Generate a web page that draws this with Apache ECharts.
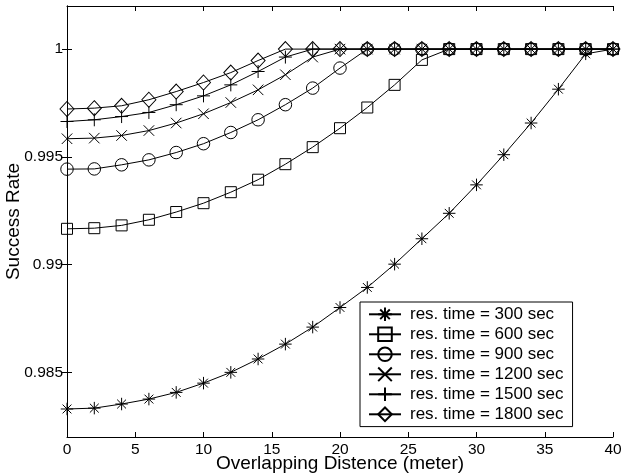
<!DOCTYPE html>
<html>
<head>
<meta charset="utf-8">
<script src="https://cdn.jsdelivr.net/npm/echarts@6/dist/echarts.min.js"></script>
<style>
html,body{margin:0;padding:0;background:#fff;}
#chart{width:623px;height:475px;}
</style>
</head>
<body>
<div id="chart"></div>
<script>
// ---- data ----
var distances = [0,2,4,6,8,10,12,14,16,18,20,22,24,26,28,30,32,34,36,38,40];
var seriesNames = ['res. time = 300 sec','res. time = 600 sec','res. time = 900 sec','res. time = 1200 sec','res. time = 1500 sec','res. time = 1800 sec'];
var rt300  = [0.98330,0.98334,0.98353,0.98376,0.98407,0.98450,0.98500,0.98562,0.98631,0.98710,0.98801,0.98894,0.99002,0.99120,0.99238,0.99370,0.99510,0.99657,0.99814,0.99978,1.0];
var rt600  = [0.99166,0.99169,0.99182,0.99208,0.99244,0.99285,0.99336,0.99394,0.99466,0.99545,0.99633,0.99729,0.99834,0.99950,1,1,1,1,1,1,1];
var rt900  = [0.99443,0.99444,0.99463,0.99486,0.99520,0.99561,0.99613,0.99672,0.99742,0.99819,0.99912,1,1,1,1,1,1,1,1,1,1];
var rt1200 = [0.99584,0.99587,0.99599,0.99622,0.99657,0.99700,0.99752,0.99811,0.99881,0.99963,1,1,1,1,1,1,1,1,1,1,1];
var rt1500 = [0.99664,0.99672,0.99687,0.99706,0.99742,0.99783,0.99834,0.99896,0.99963,1,1,1,1,1,1,1,1,1,1,1,1];
var rt1800 = [0.99722,0.99726,0.99737,0.99765,0.99803,0.99845,0.99891,0.99947,1,1,1,1,1,1,1,1,1,1,1,1,1];
var yTickValues = [0.985,0.99,0.995,1];
var xTickInterval = 5;

var allSeries = [rt300, rt600, rt900, rt1200, rt1500, rt1800];
var symbols = [
  'path://M0,-10L0,10M-10,0L10,0M-7.07,-7.07L7.07,7.07M-7.07,7.07L7.07,-7.07',
  'rect',
  'circle',
  'path://M-10,-10L10,10M-10,10L10,-10',
  'path://M0,-10L0,10M-10,0L10,0',
  'diamond'
];
var symbolSizes = [12.5, 11, 12.5, 10.5, 13, [14,15]];

var FONT = '"Liberation Sans", Arial, Helvetica, sans-serif';

var chart = echarts.init(document.getElementById('chart'), null, {renderer:'canvas'});

var series = allSeries.map(function(vals, i){
  return {
    name: seriesNames[i],
    type: 'line',
    data: distances.map(function(d, k){ return [d, vals[k]]; }),
    symbol: symbols[i],
    symbolSize: symbolSizes[i],
    showAllSymbol: true,
    lineStyle: {color:'#000', width:1},
    itemStyle: {color:'none', borderColor:'#000', borderWidth:1},
    emphasis: {disabled:true},
    z: 3
  };
});

var axisCommonLine = {show:true, lineStyle:{color:'#000', width:1}};

chart.setOption({
  animation:false,
  backgroundColor:'#fff',
  grid:{left:67, right:10, top:6, bottom:38, containLabel:false, outerBoundsMode:'none'},
  legend:{
    orient:'vertical',
    left:360, top:302,
    data:seriesNames,
    backgroundColor:'#fff',
    borderColor:'#000', borderWidth:1,
    borderRadius:0,
    padding:[3,9,3,8],
    itemWidth:32, itemHeight:17, itemGap:1.4,
    textStyle:{color:'#000', fontSize:17, fontFamily:FONT, padding:[0,0,0,4], lineHeight:17},
    selectedMode:false
  },
  xAxis:[{
    type:'value', min:0, max:40, interval:xTickInterval,
    name:'Overlapping Distence (meter)',
    nameLocation:'middle', nameGap:17, nameMoveOverlap:false,
    nameTextStyle:{color:'#000', fontSize:19, fontFamily:FONT},
    axisLine:axisCommonLine,
    axisTick:{show:true, inside:true, length:5, lineStyle:{color:'#000'}},
    axisLabel:{color:'#000', fontSize:15.5, fontFamily:FONT, margin:5},
    splitLine:{show:false}
  },{
    type:'value', min:0, max:40, interval:xTickInterval, position:'top',
    axisLine:axisCommonLine,
    axisTick:{show:true, inside:true, length:5, lineStyle:{color:'#000'}},
    axisLabel:{show:false},
    splitLine:{show:false}
  }],
  yAxis:[{
    type:'value', min:0.982, max:1.002,
    name:'Success Rate',
    nameLocation:'middle', nameGap:44, nameRotate:90, nameMoveOverlap:false,
    nameTextStyle:{color:'#000', fontSize:19, fontFamily:FONT},
    axisLine:axisCommonLine,
    axisTick:{show:true, inside:true, length:5, lineStyle:{color:'#000'}, customValues:yTickValues},
    axisLabel:{color:'#000', fontSize:15.5, fontFamily:FONT, margin:4, customValues:yTickValues,
      formatter:function(v){ return String(parseFloat(v.toFixed(4))); }},
    splitLine:{show:false}
  },{
    type:'value', min:0.982, max:1.002, position:'right',
    axisLine:axisCommonLine,
    axisTick:{show:true, inside:true, length:5, lineStyle:{color:'#000'}, customValues:yTickValues},
    axisLabel:{show:false, customValues:yTickValues},
    splitLine:{show:false}
  }],
  series:series
});
</script>
</body>
</html>
